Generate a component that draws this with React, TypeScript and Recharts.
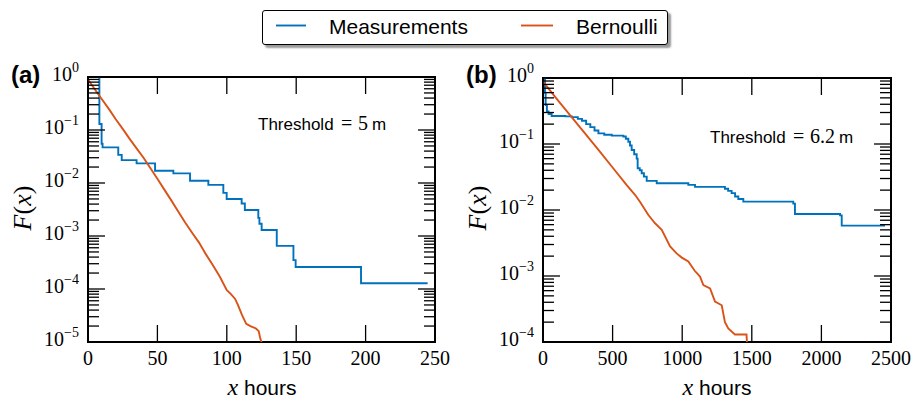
import { LineChart, Line, XAxis, YAxis, ReferenceArea } from "recharts"

const BLUE = "#0072bd"
const RED = "#d95319"
const SERIF = "'Liberation Serif', 'DejaVu Serif', serif"
const SANS = "'Liberation Sans', Arial, sans-serif"

// tick labels
const xTicksA = [0, 50, 100, 150, 200, 250]
const xTicksB = [0, 500, 1000, 1500, 2000, 2500]
const decadesA = [-5, -4, -3, -2, -1, 0]
const decadesB = [-4, -3, -2, -1, 0]

// (a) threshold 5 m : [hours, F(x)]
const measurementsA: [number, number][] = [
  [7.5, 0.95], [8.2, 0.13], [9.8, 0.055], [10.5, 0.047], [21.8, 0.034], [24.3, 0.027],
  [35, 0.0235], [48.3, 0.017], [61.5, 0.0152], [73.5, 0.011], [86.7, 0.0092], [97.5, 0.0065],
  [99.9, 0.005], [110.7, 0.0041], [113, 0.0031], [122.7, 0.0022], [123.5, 0.0017],
  [125.1, 0.0013], [136, 0.00065], [148, 0.00035], [149.6, 0.00026], [196.7, 0.000128],
  [244.7, 0.000128],
]
const bernoulliA: [number, number][] = [
  [0, 0.9], [5, 0.58], [10, 0.38], [15, 0.25], [20, 0.16], [25, 0.105], [30, 0.068],
  [35, 0.045], [40, 0.03], [45, 0.019], [50, 0.012], [55, 0.0075], [60, 0.0047],
  [65, 0.0029], [70, 0.0018], [75, 0.00115], [80, 0.00075], [85, 0.00045], [90, 0.00028],
  [95, 0.00017], [100, 0.000095], [103, 0.00008], [106, 0.000065], [108, 0.00005],
  [111, 0.000032], [114, 0.000022], [117, 0.00002], [121, 0.000018], [123, 0.000016],
  [124, 0.000012], [125, 0.00001],
]

// (b) threshold 6.2 m
const measurementsB: [number, number][] = [
  [10, 0.97], [14, 0.6], [19, 0.39], [28, 0.31], [40, 0.285], [62, 0.266], [160, 0.262],
  [206, 0.255], [250, 0.24], [280, 0.225], [310, 0.2], [340, 0.18], [370, 0.16], [398, 0.145],
  [440, 0.138], [494, 0.134], [577, 0.13], [595, 0.12], [613, 0.108], [625, 0.095],
  [637, 0.081], [655, 0.07], [673, 0.06], [680, 0.043], [695, 0.04], [709, 0.036],
  [725, 0.032], [745, 0.0276], [817, 0.0254], [1044, 0.024], [1092, 0.0224], [1307, 0.021],
  [1330, 0.0195], [1355, 0.018], [1380, 0.016], [1403, 0.0147], [1439, 0.0134],
  [1798, 0.0125], [1810, 0.0087], [2134, 0.0083], [2146, 0.0058], [2457, 0.0058],
]
const bernoulliB: [number, number][] = [
  [0, 0.88], [100, 0.48], [200, 0.265], [300, 0.146], [400, 0.081], [500, 0.044],
  [600, 0.024], [661, 0.017], [700, 0.013], [757, 0.0084], [805, 0.0063], [853, 0.005],
  [913, 0.0028], [960, 0.0022], [997, 0.0019], [1044, 0.00166], [1090, 0.0012],
  [1128, 0.00098], [1152, 0.00073], [1200, 0.00065], [1236, 0.00041], [1284, 0.00036],
  [1307, 0.0002], [1331, 0.00016], [1379, 0.00013], [1462, 0.00013], [1465, 0.0001],
]

const toRows = (pts: [number, number][]) => pts.map(([x, F]) => ({ x, F }))

function logTicks(decades: number[]) {
  const out: number[] = []
  decades.forEach((d, i) => {
    out.push(Math.pow(10, d))
    if (i < decades.length - 1) for (let m = 2; m <= 9; m++) out.push(m * Math.pow(10, d))
  })
  return out
}

const YTick = (props: any) => {
  const { x, y, payload, plotW } = props
  const e = Math.log10(payload.value)
  const major = Math.abs(e - Math.round(e)) < 1e-6
  const len = major ? 17 : 11
  const exp = Math.round(e)
  return (
    <g>
      <line x1={x} x2={x + len} y1={y} y2={y} stroke="#000" strokeWidth={1.3} />
      <line x1={x + plotW - len} x2={x + plotW} y1={y} y2={y} stroke="#000" strokeWidth={1.3} />
      {major && (
        <text x={x - 9} y={y + 4} textAnchor="end" fontFamily={SERIF} fontSize={20} fill="#000">
          10
          <tspan dy={-9} fontSize={14}>{exp < 0 ? `\u2212${-exp}` : exp}</tspan>
        </text>
      )}
    </g>
  )
}

const XTick = (props: any) => {
  const { x, y, payload, plotH } = props
  return (
    <g>
      <line x1={x} x2={x} y1={y} y2={y - 17} stroke="#000" strokeWidth={1.3} />
      <line x1={x} x2={x} y1={y - plotH} y2={y - plotH + 17} stroke="#000" strokeWidth={1.3} />
      <text x={x} y={y + 23} textAnchor="middle" fontFamily={SERIF} fontSize={20} fill="#000">
        {payload.value}
      </text>
    </g>
  )
}

interface PanelProps {
  left: number
  width: number
  top: number
  xTicks: number[]
  decades: number[]
  meas: [number, number][]
  bern: [number, number][]
}

function Panel({ left, width, top, xTicks, decades, meas, bern }: PanelProps) {
  const xMax = xTicks[xTicks.length - 1]
  const yMin = Math.pow(10, decades[0])
  const plotW = width - 88 - 25
  const plotH = 399 - top - 27 - 30
  return (
    <div style={{ position: "absolute", left, top: 0 }}>
      <LineChart width={width} height={399} margin={{ top, right: 25, bottom: 27, left: 0 }}>
        <XAxis
          type="number"
          dataKey="x"
          domain={[0, xMax]}
          ticks={xTicks}
          interval={0}
          allowDataOverflow
          height={30}
          axisLine={false}
          tickLine={false}
          tickSize={0}
          tickMargin={0}
          tick={(p: any) => <XTick {...p} plotH={plotH} />}
        />
        <YAxis
          type="number"
          dataKey="F"
          scale="log"
          domain={[yMin, 1]}
          ticks={logTicks(decades)}
          interval={0}
          allowDataOverflow
          width={88}
          axisLine={false}
          tickLine={false}
          tickSize={0}
          tickMargin={0}
          tick={(p: any) => <YTick {...p} plotW={plotW} />}
        />
        <Line
          data={toRows(meas)}
          dataKey="F"
          type="stepAfter"
          stroke={BLUE}
          strokeWidth={1.9}
          dot={false}
          isAnimationActive={false}
        />
        <Line
          data={toRows(bern)}
          dataKey="F"
          type="linear"
          stroke={RED}
          strokeWidth={1.9}
          dot={false}
          isAnimationActive={false}
        />
        <ReferenceArea
          x1={0}
          x2={xMax}
          y1={yMin}
          y2={1}
          fill="none"
          fillOpacity={0}
          stroke="#000"
          strokeWidth={2}
          ifOverflow="visible"
        />
      </LineChart>
    </div>
  )
}

function Threshold({ x, y, value }: { x: number; y: number; value: string }) {
  return (
    <text y={y} fontSize={17} fill="#000">
      <tspan x={x} fontFamily={SANS}>Threshold</tspan>
      <tspan x={x + 83} fontFamily={SERIF} fontSize={20}>=</tspan>
      <tspan x={x + 100} fontFamily={SERIF} fontSize={20}>{value}</tspan>
      <tspan dx={4} fontFamily={SANS}>m</tspan>
    </text>
  )
}

function Overlay() {
  return (
    <svg width={916} height={399} style={{ position: "absolute", left: 0, top: 0, pointerEvents: "none" }}>
      <text x={11} y={83} fontFamily={SANS} fontWeight="bold" fontSize={24}>(a)</text>
      <text x={466} y={83} fontFamily={SANS} fontWeight="bold" fontSize={24}>(b)</text>

      <text transform="translate(31,208) rotate(-90)" textAnchor="middle" fontFamily={SERIF} fontSize={26}>
        <tspan fontStyle="italic">F</tspan>(<tspan fontStyle="italic">x</tspan>)
      </text>
      <text transform="translate(486,208) rotate(-90)" textAnchor="middle" fontFamily={SERIF} fontSize={26}>
        <tspan fontStyle="italic">F</tspan>(<tspan fontStyle="italic">x</tspan>)
      </text>

      <text x={262} y={395} textAnchor="middle" fontSize={21}>
        <tspan fontFamily={SERIF} fontStyle="italic" fontSize={24}>x</tspan>
        <tspan fontFamily={SANS}> hours</tspan>
      </text>
      <text x={717} y={395} textAnchor="middle" fontSize={21}>
        <tspan fontFamily={SERIF} fontStyle="italic" fontSize={24}>x</tspan>
        <tspan fontFamily={SANS}> hours</tspan>
      </text>

      <Threshold x={258} y={130} value="5" />
      <Threshold x={710} y={143} value="6.2" />
    </svg>
  )
}

function LegendBox() {
  return (
    <div
      style={{
        position: "absolute",
        left: 262,
        top: 10,
        width: 404,
        height: 33,
        border: "1.5px solid #000",
        borderRadius: 3,
        background: "#fff",
        boxShadow: "3px 3px 2px #999",
      }}
    >
      <svg width={404} height={33} style={{ position: "absolute", left: 0, top: 0 }}>
        <line x1={13} x2={43} y1={14.5} y2={14.5} stroke={BLUE} strokeWidth={1.9} />
        <text x={66} y={23} fontFamily={SANS} fontSize={21}>Measurements</text>
        <line x1={258} x2={290} y1={14.5} y2={14.5} stroke={RED} strokeWidth={1.9} />
        <text x={313} y={23} fontFamily={SANS} fontSize={21}>Bernoulli</text>
      </svg>
    </div>
  )
}

export default function App() {
  return (
    <div style={{ position: "absolute", left: 0, top: 0, width: 916, height: 399, background: "#fff" }}>
      <Panel left={0} width={460} top={77} xTicks={xTicksA} decades={decadesA} meas={measurementsA} bern={bernoulliA} />
      <Panel left={455} width={461} top={78} xTicks={xTicksB} decades={decadesB} meas={measurementsB} bern={bernoulliB} />
      <Overlay />
      <LegendBox />
    </div>
  )
}
